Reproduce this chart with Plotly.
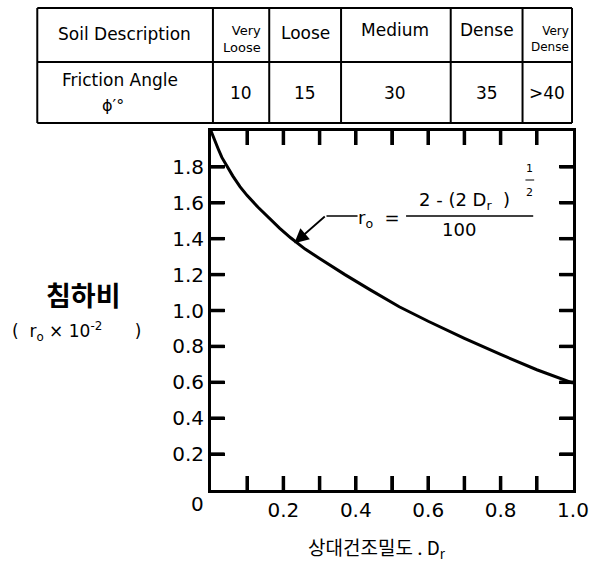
import plotly.graph_objects as go

# ---- data ----
dr = [0.0, 0.01, 0.02, 0.03, 0.042, 0.06, 0.08, 0.10, 0.13, 0.16, 0.19, 0.22, 0.26, 0.30,
      0.37, 0.44, 0.52, 0.60, 0.70, 0.80, 0.90, 1.00]
ro = [2.00, 1.945, 1.90, 1.853, 1.81, 1.75, 1.69, 1.64, 1.575, 1.515, 1.458, 1.405, 1.342, 1.29,
      1.20, 1.115, 1.021, 0.94, 0.845, 0.755, 0.67, 0.596]

x_tickvals = [0.1, 0.2, 0.3, 0.4, 0.5, 0.6, 0.7, 0.8, 0.9, 1.0]
x_ticktext = ["", "0.2", "", "0.4", "", "0.6", "", "0.8", "", "1.0"]
y_tickvals = [0.2, 0.4, 0.6, 0.8, 1.0, 1.2, 1.4, 1.6, 1.8]
y_ticktext = ["0.2", "0.4", "0.6", "0.8", "1.0", "1.2", "1.4", "1.6", "1.8"]

table_row1 = ["Soil Description", "Very<br>Loose", "Loose", "Medium", "Dense", "Very<br>Dense"]
table_row2 = ["Friction Angle", "10", "15", "30", "35", ">40"]

X_RANGE = [0, 1.0]
Y_RANGE = [0, 2.0]

W, H = 601, 562
L, R, T, B = 211, 584, 131, 490
TICKLEN = 14

def PX(px):
    return (px - L) / (R - L)

def PY(py):
    return (B - py) / (B - T)

FONT = "DejaVu Sans"
KFONT = "Noto Sans CJK KR"

fig = go.Figure()

# inward tick marks on all four sides, built from the tick values
tdx = TICKLEN / (R - L) * (X_RANGE[1] - X_RANGE[0])
tdy = TICKLEN / (B - T) * (Y_RANGE[1] - Y_RANGE[0])
tick_x, tick_y = [], []
for v in x_tickvals[:-1]:
    tick_x += [v, v, None, v, v, None]
    tick_y += [Y_RANGE[0], Y_RANGE[0] + tdy, None, Y_RANGE[1] - tdy, Y_RANGE[1], None]
for v in y_tickvals:
    tick_x += [X_RANGE[0], X_RANGE[0] + tdx, None, X_RANGE[1] - tdx, X_RANGE[1], None]
    tick_y += [v, v, None, v, v, None]
fig.add_trace(go.Scatter(x=tick_x, y=tick_y, mode="lines", line=dict(color="black", width=3.5),
                         hoverinfo="skip", showlegend=False))

fig.add_trace(go.Scatter(x=dr, y=ro, mode="lines", line=dict(color="black", width=3),
                         hoverinfo="skip", showlegend=False))

shapes = []
annotations = []

# table
col_x = [32, 213, 271, 345, 458, 532, 583]
row_y = [8, 62, 123]
for cx in col_x:
    shapes.append(dict(type="line", xref="paper", yref="paper", x0=PX(cx), x1=PX(cx), y0=PY(row_y[0]), y1=PY(row_y[-1]),
                       line=dict(color="black", width=2)))
for ry in row_y:
    shapes.append(dict(type="line", xref="paper", yref="paper", x0=PX(col_x[0]), x1=PX(col_x[-1]), y0=PY(ry), y1=PY(ry),
                       line=dict(color="black", width=2)))

def ann(text, px, py, size, font=FONT, xanchor="center", yanchor="middle", color="black", align="center"):
    annotations.append(dict(text=text, x=PX(px), y=PY(py), xref="paper", yref="paper", showarrow=False,
                            xanchor=xanchor, yanchor=yanchor, align=align,
                            font=dict(family=font, size=size, color=color)))

row1_pos = [(122, 34, 17), (243, 39, 13), (308, 33, 17), (401, 30, 17), (495, 30, 17), (560, 39, 12)]
for t, (px, py, s) in zip(table_row1, row1_pos):
    ann(t, px, py, s, align="right")
ann(table_row2[0], 117, 80, 17)
ann("\u03d5\u2032\u00b0", 110, 106, 16)
row2_x = [242, 308, 401, 495, 557]
for t, px in zip(table_row2[1:], row2_x):
    ann(t, px, 93, 17)

# corner zero label
ann("0", 197, 504, 20)

# y-axis title
ann("<b>침하비</b>", 80, 294, 27, font=KFONT)
ann("(&nbsp;&nbsp;r<sub>o</sub> × 10<sup>-2</sup>&nbsp;&nbsp;&nbsp;&nbsp;&nbsp;&nbsp;)", 4, 331, 17, xanchor="left")

# x-axis title
ann("상대건조밀도 . D<sub>r</sub>", 382, 548, 19, font=KFONT)

# formula
ann("r<sub>o</sub>&nbsp;&nbsp;=", 384, 219, 18)
ann("2 - (2 D<sub>r</sub>&nbsp;&nbsp;)", 472, 201, 18)
ann("1", 539, 168, 11)
ann("2", 539, 193, 11)
ann("100", 467, 229, 18)
shapes.append(dict(type="line", xref="paper", yref="paper", x0=PX(412), x1=PX(543), y0=PY(216), y1=PY(216),
                   line=dict(color="black", width=1.5)))
shapes.append(dict(type="line", xref="paper", yref="paper", x0=PX(535), x1=PX(544), y0=PY(180), y1=PY(180),
                   line=dict(color="black", width=1)))
# leader line
shapes.append(dict(type="line", xref="paper", yref="paper", x0=PX(330), x1=PX(362), y0=PY(216), y1=PY(216),
                   line=dict(color="black", width=1.5)))
annotations.append(dict(text="", x=0.23, y=1.375, xref="x", yref="y", showarrow=True, arrowhead=2, arrowsize=1.6,
                        arrowwidth=1.8, arrowcolor="black", ax=32, ay=-28, axref="pixel", ayref="pixel",
                        standoff=0, startstandoff=0))

axis_common = dict(showline=True, linecolor="black", linewidth=3, mirror="ticks", ticks="inside", ticklen=TICKLEN,
                   tickwidth=3, tickcolor="black", showgrid=False,
                   zeroline=False, tickfont=dict(family=FONT, size=20, color="black"))

fig.update_layout(
    width=W, height=H,
    margin=dict(l=L, r=W - R, t=T, b=H - B, pad=0),
    paper_bgcolor="white", plot_bgcolor="white",
    xaxis=dict(range=X_RANGE, tickvals=x_tickvals, ticktext=x_ticktext, **axis_common),
    yaxis=dict(range=Y_RANGE, tickvals=y_tickvals, ticktext=y_ticktext, **axis_common),
    shapes=shapes, annotations=annotations, showlegend=False,
)

fig.write_html("out.html")
